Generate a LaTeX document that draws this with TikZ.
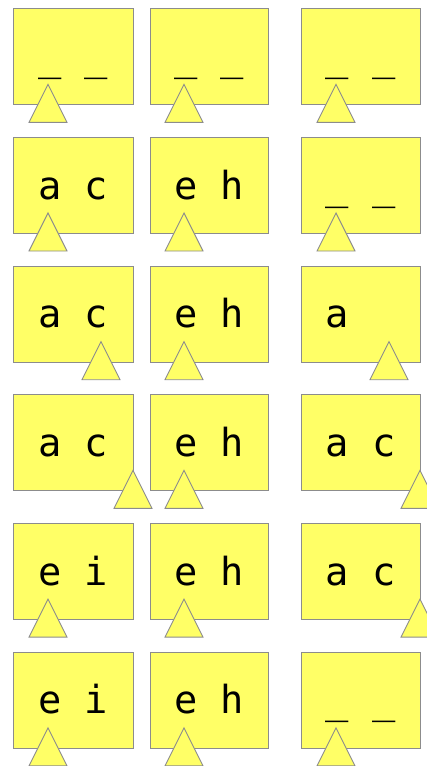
\documentclass[tikz,border=0pt]{standalone}
\usepackage{fontspec}
\newfontfamily\monof{DejaVu Sans Mono}
\definecolor{boxfill}{HTML}{FFFF66}
\definecolor{boxline}{HTML}{8C8C8C}
\tikzset{
  cell/.style={draw=boxline, fill=boxfill, line width=0.9pt, rectangle, inner sep=0pt, anchor=north west, minimum height=96pt},
  ptr/.style={draw=boxline, fill=boxfill, line width=0.9pt, line join=miter},
  txt/.style={anchor=base, inner sep=0pt, font=\monof\fontsize{38.7pt}{40pt}\selectfont}
}
\begin{document}
\begin{tikzpicture}[x=1pt,y=-1pt]
\useasboundingbox (0,0) rectangle (427,766);
% columns: left, width
\foreach \r/\ta/\tb/\tc/\pa/\pc in {
  0/{\_~\_}/{\_~\_}/{\_~\_}/35/35,
  1/{a~c}/{e~h}/{\_~\_}/35/35,
  2/{a~c}/{e~h}/{a~\phantom{c}}/88/88,
  3/{a~c}/{e~h}/{a~c}/120/119,
  4/{e~i}/{e~h}/{a~c}/35/119,
  5/{e~i}/{e~h}/{\_~\_}/35/35}{
  \pgfmathsetmacro{\top}{8.3+128.7*\r}
  \pgfmathsetmacro{\bot}{\top+96}
  \node[cell, minimum width=120pt] (b\r a) at (13,\top) {};
  \node[cell, minimum width=118pt] (b\r b) at (150,\top) {};
  \node[cell, minimum width=119pt] (b\r c) at (301,\top) {};
  \node[txt] (t\r a) at (73,\top+62) {\ta};
  \node[txt] (t\r b) at (209,\top+62) {\tb};
  \node[txt] (t\r c) at (360.5,\top+62) {\tc};
  \pgfmathsetmacro{\xa}{13+\pa}
  \pgfmathsetmacro{\xc}{301+\pc}
  \draw[ptr] (\xa,\bot-20) -- (\xa+19,\bot+18) -- (\xa-19,\bot+18) -- cycle;
  \draw[ptr] (184,\bot-20) -- (203,\bot+18) -- (165,\bot+18) -- cycle;
  \draw[ptr] (\xc,\bot-20) -- (\xc+19,\bot+18) -- (\xc-19,\bot+18) -- cycle;
}
\end{tikzpicture}
\end{document}
